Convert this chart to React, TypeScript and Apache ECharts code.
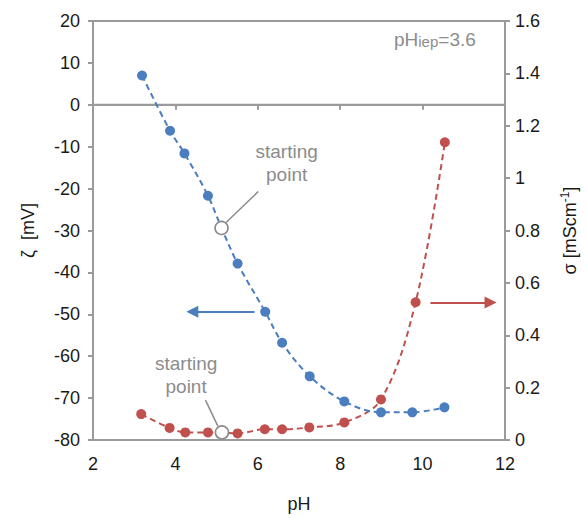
import React, { useEffect, useRef } from "react";
import * as echarts from "echarts";

const xTicks = { min: 2, max: 12, interval: 2 };
const zetaAxis = { min: -80, max: 20, interval: 10 };
const sigmaAxis = { min: 0, max: 1.6, interval: 0.2 };

const phZeta = [3.19, 3.87, 4.22, 4.79, 5.12, 5.51, 6.18, 6.59, 7.26, 8.1, 8.99, 9.75, 10.53];
const zeta = [7, -6.2, -11.6, -21.7, -29.4, -37.9, -49.4, -56.8, -64.8, -70.8, -73.4, -73.4, -72.2];
const phSigma = [3.17, 3.86, 4.24, 4.79, 5.13, 5.51, 6.17, 6.59, 7.25, 8.1, 8.99, 9.83, 10.54];
const sigma = [0.099, 0.046, 0.029, 0.029, 0.029, 0.025, 0.041, 0.041, 0.048, 0.067, 0.155, 0.526, 1.137];
const startIdx = 4;

// annotation anchors in data units
const zetaArrow = [[5.92, -49.4], [4.41, -49.4]];
const sigmaArrow = [[10.19, 0.525], [11.65, 0.525]];
const zetaLeader = [[6.01, -20.7], [5.23, -28.1]];
const zetaNote = [6.7, -14.0];
const sigmaLeader = [[4.73, 0.152], [5.03, 0.053]];
const sigmaNote = [4.26, 0.247];
const zeroLine = [[2, 0], [12, 0]];

const BLUE = "#4a7ebf";
const RED = "#c0504d";
const GRAY = "#9a9a9a";
const TEXT_GRAY = "#8c8c8c";
const FONT = "'Liberation Sans', Arial, sans-serif";

function buildData(xs: number[], ys: number[]) {
  return xs.map((x, i) =>
    i === startIdx
      ? {
          value: [x, ys[i]],
          symbolSize: 13,
          itemStyle: { color: "#ffffff", borderColor: TEXT_GRAY, borderWidth: 1.6 },
        }
      : { value: [x, ys[i]] }
  );
}

function note(coord: number[]) {
  return {
    coord,
    label: {
      show: true,
      position: "inside",
      formatter: "starting\npoint",
      color: TEXT_GRAY,
      fontSize: 19,
      lineHeight: 23,
      fontFamily: FONT,
      align: "center",
    },
  };
}

function arrow(pts: number[][], color: string) {
  return [
    { coord: pts[0], symbol: "none", lineStyle: { color, width: 2, type: "solid" }, itemStyle: { color } },
    { coord: pts[1], symbol: "triangle", symbolSize: 12, itemStyle: { color, opacity: 1 } },
  ];
}

function leader(pts: number[][]) {
  return [
    { coord: pts[0], symbol: "none", lineStyle: { color: TEXT_GRAY, width: 1.5, type: "solid" } },
    { coord: pts[1], symbol: "none" },
  ];
}

export default function App() {
  const ref = useRef<HTMLDivElement>(null);
  useEffect(() => {
    if (!ref.current) return;
    const chart = echarts.init(ref.current, null, { renderer: "svg" });
    const axisLine = { show: true, lineStyle: { color: GRAY, width: 2 } };
    const axisTick = { show: true, length: 5, lineStyle: { color: GRAY, width: 2 } };
    const labelStyle = { color: "#1a1a1a", fontSize: 18, fontFamily: FONT };
    chart.setOption({
      animation: false,
      grid: {
        left: 93,
        right: 73,
        top: 21,
        bottom: 76,
        show: true,
        borderColor: GRAY,
        borderWidth: 2,
        backgroundColor: "transparent",
      },
      graphic: [
        {
          type: "text",
          left: 394,
          top: 30,
          style: {
            text: "{a|pH}{b|iep}{a|=3.6}",
            rich: {
              a: { fontSize: 19, fill: TEXT_GRAY, fontFamily: FONT, verticalAlign: "bottom" },
              b: { fontSize: 15, fill: TEXT_GRAY, fontFamily: FONT, padding: [8, 0, 0, 0], verticalAlign: "bottom" },
            },
          },
        },
      ],
      xAxis: {
        type: "value",
        ...xTicks,
        name: "pH",
        nameLocation: "middle",
        nameGap: 55,
        nameTextStyle: { color: "#1a1a1a", fontSize: 18, fontFamily: FONT },
        axisLine,
        axisTick,
        axisLabel: { ...labelStyle, margin: 15 },
        splitLine: { show: false },
      },
      yAxis: [
        {
          type: "value",
          ...zetaAxis,
          position: "left",
          name: "ζ  [mV]",
          nameLocation: "middle",
          nameGap: 56,
          nameRotate: 90,
          nameTextStyle: { color: "#1a1a1a", fontSize: 18, fontFamily: FONT },
          axisLine,
          axisTick,
          axisLabel: { ...labelStyle, margin: 13 },
          splitLine: { show: false },
        },
        {
          type: "value",
          ...sigmaAxis,
          position: "right",
          name: "{a|σ [mScm}{b|-1}{a|]}",
          nameLocation: "middle",
          nameGap: 54,
          nameRotate: 90,
          nameTextStyle: {
            color: "#1a1a1a",
            fontSize: 18,
            fontFamily: FONT,
            rich: {
              a: { fontSize: 18, color: "#1a1a1a", fontFamily: FONT, verticalAlign: "bottom" },
              b: { fontSize: 12, color: "#1a1a1a", fontFamily: FONT, verticalAlign: "bottom", padding: [0, 0, 8, 0] },
            },
          },
          axisLine,
          axisTick,
          axisLabel: { ...labelStyle, margin: 10 },
          splitLine: { show: false },
        },
      ],
      series: [
        {
          type: "line",
          data: zeroLine,
          yAxisIndex: 0,
          symbol: "none",
          silent: true,
          lineStyle: { color: GRAY, width: 2 },
          z: 1,
        },
        {
          type: "line",
          name: "zeta",
          yAxisIndex: 0,
          data: buildData(phZeta, zeta),
          smooth: 0.35,
          symbol: "circle",
          symbolSize: 10,
          itemStyle: { color: BLUE },
          lineStyle: { color: BLUE, width: 2, type: [6, 4] },
          emphasis: { disabled: true },
          markLine: {
            silent: true,
            label: { show: false },
            data: [arrow(zetaArrow, BLUE), leader(zetaLeader)],
          },
          markPoint: {
            silent: true,
            symbol: "circle",
            symbolSize: 0,
            data: [note(zetaNote)],
          },
          z: 3,
        },
        {
          type: "line",
          name: "sigma",
          yAxisIndex: 1,
          data: buildData(phSigma, sigma),
          smooth: 0.35,
          symbol: "circle",
          symbolSize: 10,
          itemStyle: { color: RED },
          lineStyle: { color: RED, width: 2, type: [6, 4] },
          emphasis: { disabled: true },
          markLine: {
            silent: true,
            label: { show: false },
            data: [arrow(sigmaArrow, RED), leader(sigmaLeader)],
          },
          markPoint: {
            silent: true,
            symbol: "circle",
            symbolSize: 0,
            data: [note(sigmaNote)],
          },
          z: 2,
        },
      ],
    });
    return () => chart.dispose();
  }, []);
  return <div ref={ref} style={{ width: 587, height: 518, position: "absolute", left: 0, top: 0 }} />;
}
